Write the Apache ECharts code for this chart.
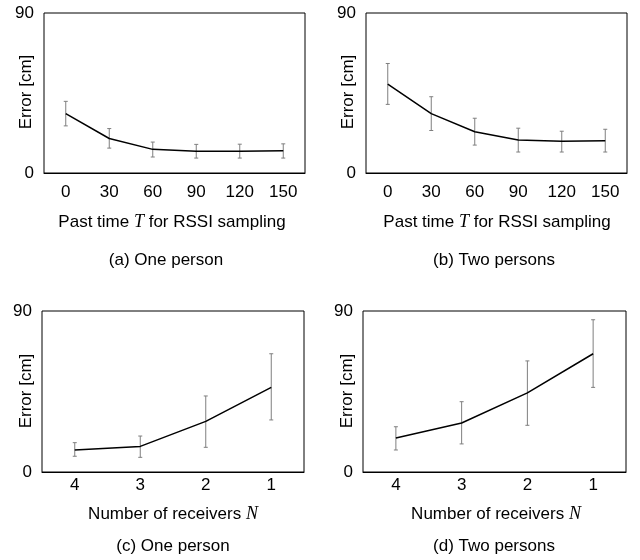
<!DOCTYPE html>
<html><head><meta charset="utf-8">
<script src="https://cdn.jsdelivr.net/npm/echarts@6/dist/echarts.min.js"></script>
<style>html,body{margin:0;padding:0;background:#fff}#c{width:640px;height:560px}</style>
</head><body><div id="c"></div>
<script>
const timeCats = ['0','30','60','90','120','150'];
const recvCats = ['4','3','2','1'];
const yTicks = [0, 90];

const aMean = [33.4, 19.4, 13.3, 12.3, 12.3, 12.5];
const aLow  = [26.5, 14.0, 9.0, 8.4, 8.4, 8.4];
const aHigh = [40.3, 25.0, 17.4, 16.1, 16.2, 16.4];

const bMean = [50.0, 33.4, 23.2, 18.5, 17.9, 18.1];
const bLow  = [38.6, 23.9, 15.7, 11.8, 11.8, 11.8];
const bHigh = [61.6, 42.9, 30.8, 25.2, 23.5, 24.6];

const cMean = [12.3, 14.3, 28.3, 47.3];
const cLow  = [8.8, 8.2, 13.8, 29.1];
const cHigh = [16.4, 20.1, 42.5, 66.1];

const dMean = [19.0, 27.4, 44.2, 66.1];
const dLow  = [12.3, 15.7, 26.1, 47.3];
const dHigh = [25.3, 39.3, 62.1, 85.1];

const captions = ['(a) One person', '(b) Two persons', '(c) One person', '(d) Two persons'];
const xNameTime = 'Past time {t|T} for RSSI sampling';
const xNameRecv = 'Number of receivers {t|N}';
const yName = 'Error [cm]';

const FONT = 'Liberation Sans';
const FS = 17;
const grids = [
  {left: 44, top: 13, width: 261, height: 160},
  {left: 366, top: 13, width: 261, height: 160},
  {left: 42, top: 311, width: 262, height: 161},
  {left: 363, top: 311, width: 263, height: 161}
];
const panels = [
  {cats: timeCats, mean: aMean, low: aLow, high: aHigh, xname: xNameTime, xnx: 167, xny: 208, capx: 161, capy: 247, lm: 11, ynx: 26, yny: 92},
  {cats: timeCats, mean: bMean, low: bLow, high: bHigh, xname: xNameTime, xnx: 492, xny: 208, capx: 489, capy: 247, lm: 11, ynx: 348, yny: 92},
  {cats: recvCats, mean: cMean, low: cLow, high: cHigh, xname: xNameRecv, xnx: 168, xny: 500, capx: 168, capy: 533, lm: 5, ynx: 26, yny: 391},
  {cats: recvCats, mean: dMean, low: dLow, high: dHigh, xname: xNameRecv, xnx: 491, xny: 500, capx: 489, capy: 533, lm: 5, ynx: 347, yny: 391}
];

const option = {
  animation: false,
  backgroundColor: '#fff',
  grid: grids.map(g => Object.assign({show: true, borderColor: '#000', borderWidth: 1, backgroundColor: 'transparent'}, g)),
  xAxis: panels.map((p, i) => ({
    type: 'category', gridIndex: i, data: p.cats, boundaryGap: true,
    axisLine: {show: true, lineStyle: {color: '#000', width: 1}},
    axisTick: {show: false},
    axisLabel: {fontFamily: FONT, fontSize: FS, color: '#000', margin: p.lm},
    splitLine: {show: false}
  })),
  yAxis: panels.map((p, i) => ({
    type: 'value', gridIndex: i, min: yTicks[0], max: yTicks[1], interval: yTicks[1] - yTicks[0],
    axisLine: {show: false}, axisTick: {show: false},
    axisLabel: {fontFamily: FONT, fontSize: FS, color: '#000', margin: 10},
    splitLine: {show: false}
  })),
  graphic: panels.map(p => ({
    type: 'text', x: p.ynx, y: p.yny, rotation: Math.PI / 2,
    style: {text: yName, fontFamily: FONT, fontSize: FS, fill: '#000', align: 'center', verticalAlign: 'middle'}
  })),
  title: [].concat(
    panels.map(p => ({
      text: p.xname, left: p.xnx, top: p.xny, textAlign: 'center',
      textStyle: {fontFamily: FONT, fontSize: FS, fontWeight: 'normal', color: '#000',
        rich: {t: {fontFamily: 'Liberation Serif', fontStyle: 'italic', fontSize: FS + 1, color: '#000'}}}
    })),
    panels.map((p, i) => ({
      text: captions[i], left: p.capx, top: p.capy, textAlign: 'center',
      textStyle: {fontFamily: FONT, fontSize: FS, fontWeight: 'normal', color: '#000'}
    }))
  ),
  series: [].concat(
    panels.map((p, i) => ({
      type: 'line', xAxisIndex: i, yAxisIndex: i, data: p.mean,
      showSymbol: false, symbol: 'none', lineStyle: {color: '#000', width: 1.5}, z: 3
    })),
    panels.map((p, i) => ({
      type: 'custom', xAxisIndex: i, yAxisIndex: i,
      data: p.cats.map((c, k) => [k, p.low[k], p.high[k]]),
      renderItem: function (params, api) {
        const lo = api.coord([api.value(0), api.value(1)]);
        const hi = api.coord([api.value(0), api.value(2)]);
        const w = 2;
        const st = {stroke: '#7f7f7f', lineWidth: 1};
        return {type: 'group', children: [
          {type: 'line', shape: {x1: lo[0], y1: lo[1], x2: hi[0], y2: hi[1]}, style: st},
          {type: 'line', shape: {x1: lo[0] - w, y1: lo[1], x2: lo[0] + w, y2: lo[1]}, style: st},
          {type: 'line', shape: {x1: hi[0] - w, y1: hi[1], x2: hi[0] + w, y2: hi[1]}, style: st}
        ]};
      },
      z: 2
    }))
  )
};
const chart = echarts.init(document.getElementById('c'), null, {renderer: 'canvas'});
chart.setOption(option);
</script>
</body></html>
